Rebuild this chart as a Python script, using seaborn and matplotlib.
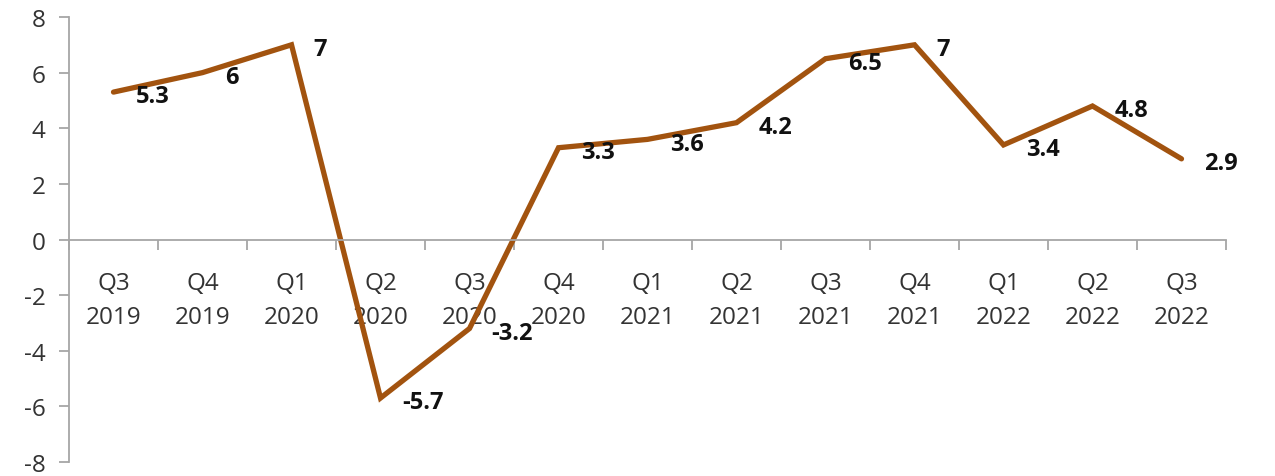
import numpy as np
import pandas as pd
import matplotlib
matplotlib.use("Agg")
import matplotlib.pyplot as plt
import seaborn as sns

quarters = ["Q3", "Q4", "Q1", "Q2", "Q3", "Q4", "Q1", "Q2", "Q3", "Q4", "Q1", "Q2", "Q3"]
years = ["2019", "2019", "2020", "2020", "2020", "2020", "2021", "2021", "2021", "2021", "2022", "2022", "2022"]
values = [5.3, 6, 7, -5.7, -3.2, 3.3, 3.6, 4.2, 6.5, 7, 3.4, 4.8, 2.9]
value_labels = ["5.3", "6", "7", "-5.7", "-3.2", "3.3", "3.6", "4.2", "6.5", "7", "3.4", "4.8", "2.9"]
y_ticks = [-8, -6, -4, -2, 0, 2, 4, 6, 8]

sns.set_theme(style="white")
plt.rcParams['font.family'] = ['Open Sans', 'DejaVu Sans']

categories = [f"{q}\n{y}" for q, y in zip(quarters, years)]
df = pd.DataFrame({"pos": np.arange(len(values)), "value": values})

fig = plt.figure(figsize=(12.75, 4.77), dpi=100)
ax = fig.add_axes([69/1275, 1 - 463/477, (1226 - 69)/1275, (463 - 18)/477])

line_color = "#A2530F"
sns.lineplot(data=df, x="pos", y="value", ax=ax, color=line_color, linewidth=3.8,
             solid_joinstyle="miter", solid_capstyle="round")

for x, v, lab in zip(df["pos"], values, value_labels):
    ax.annotate(lab, (x, v), xytext=(16, -3), textcoords="offset points",
                ha="left", va="center", fontsize=17, fontweight="bold", color="#111111")

ax.set_xlim(-0.5, len(values) - 0.5)
ax.set_ylim(-8, 8)
ax.set_yticks(y_ticks)
ax.set_yticklabels([str(t) for t in y_ticks])
ax.set_xticks(np.arange(len(values)))
ax.set_xticklabels(categories)
ax.set_xticks(np.arange(-0.5, len(values)), minor=True)

axis_color = "#A6A6A6"
for s in ["top", "right"]:
    ax.spines[s].set_visible(False)
ax.spines["bottom"].set_position(("data", 0))
ax.spines["bottom"].set_color(axis_color)
ax.spines["left"].set_color(axis_color)
ax.spines["bottom"].set_linewidth(1.3)
ax.spines["left"].set_linewidth(1.3)

ax.tick_params(axis="x", which="major", length=0, pad=23, labelsize=17.5, labelcolor="#333333")
ax.tick_params(axis="x", which="minor", length=7, width=1.3, color=axis_color, direction="out", bottom=True)
ax.tick_params(axis="y", length=7, width=1.3, color=axis_color, direction="out", left=True,
               labelsize=17.5, labelcolor="#333333", pad=10)
for t in ax.xaxis.get_major_ticks():
    t.label1.set_linespacing(1.53)
ax.set_xlabel("")
ax.set_ylabel("")
ax.grid(False)

fig.savefig("out.png", dpi=100)
